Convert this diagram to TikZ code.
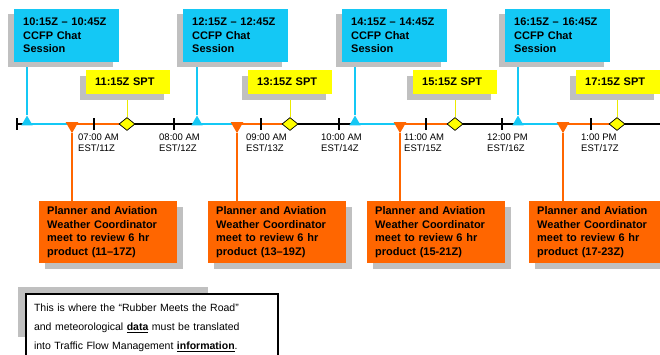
\documentclass[tikz,border=0pt]{standalone}
\usepackage{fontspec}
\setmainfont{Liberation Sans}
\usetikzlibrary{shapes.geometric,shadows}
\definecolor{ccfpblue}{RGB}{20,200,245}
\definecolor{sptyellow}{RGB}{255,255,0}
\definecolor{planorange}{RGB}{255,102,0}
\definecolor{shadowgray}{RGB}{192,192,192}
\pgfdeclarelayer{bg}
\pgfsetlayers{bg,main}
\begin{document}
\begin{tikzpicture}[x=1pt,y=-1pt,
  bluebox/.style={fill=ccfpblue, anchor=north west, minimum width=105pt, minimum height=53pt,
    text width=87pt, inner xsep=9pt, inner ysep=0pt, align=left,
    font=\fontsize{11}{13.5}\selectfont\bfseries,
    drop shadow={shadow xshift=-6pt,shadow yshift=-5pt,fill=shadowgray,opacity=1}},
  yellowbox/.style={fill=sptyellow, anchor=north west, minimum width=84pt, minimum height=24pt,
    text width=66pt, inner xsep=9pt, inner ysep=0pt, align=left,
    font=\fontsize{11}{13.5}\selectfont\bfseries,
    drop shadow={shadow xshift=-6pt,shadow yshift=-6pt,fill=shadowgray,opacity=1}},
  orangebox/.style={fill=planorange, anchor=north west, minimum width=138pt, minimum height=62pt,
    text width=122pt, inner xsep=8pt, inner ysep=0pt, align=left,
    font=\fontsize{11}{13.5}\selectfont\bfseries,
    drop shadow={shadow xshift=6pt,shadow yshift=-6pt,fill=shadowgray,opacity=1}},
  bluetri/.style={regular polygon, regular polygon sides=3, minimum size=13pt, inner sep=0pt,
    fill=ccfpblue, anchor=south},
  orangetri/.style={regular polygon, regular polygon sides=3, shape border rotate=180,
    minimum size=14.5pt, inner sep=0pt, fill=planorange, anchor=north},
  sptdiamond/.style={diamond, minimum width=16pt, minimum height=13pt, inner sep=0pt,
    fill=sptyellow, draw=black, line width=0.7pt},
  ticklabel/.style={anchor=north west, inner sep=0pt, align=left,
    font=\fontsize{9.5}{10.5}\selectfont},
  blueline/.style={draw=ccfpblue, line width=1.8pt},
  orangeline/.style={draw=planorange, line width=2pt},
  yellowline/.style={draw=sptyellow!92!black, line width=1pt},
  tickmark/.style={draw=black, line width=1.1pt},
]
\useasboundingbox (0,0) rectangle (660,354);

% ---- timeline coordinates
\foreach \i/\x in {0/17,1/94,2/174,3/261,4/339,5/426,6/502,7/591}
  \coordinate (t\i) at (\x,124);
\coordinate (tend) at (664,124);

% ---- CCFP chat session boxes
\node[bluebox] (b1) at (14,9)  {10:15Z -- 10:45Z\\CCFP Chat\\Session};
\node[bluebox] (b2) at (183,9) {12:15Z -- 12:45Z\\CCFP Chat\\Session};
\node[bluebox] (b3) at (342,9) {14:15Z -- 14:45Z\\CCFP Chat\\Session};
\node[bluebox] (b4) at (505,9) {16:15Z -- 16:45Z\\CCFP Chat\\Session};

% ---- SPT boxes
\node[yellowbox] (y1) at (86,70)  {11:15Z SPT};
\node[yellowbox] (y2) at (248,70) {13:15Z SPT};
\node[yellowbox] (y3) at (413,70) {15:15Z SPT};
\node[yellowbox] (y4) at (576,70) {17:15Z SPT};

% ---- planner boxes
\node[orangebox] (o1) at (39,201)  {Planner and Aviation\\Weather Coordinator\\meet to review 6 hr\\product (11--17Z)};
\node[orangebox] (o2) at (208,201) {Planner and Aviation\\Weather Coordinator\\meet to review 6 hr\\product (13--19Z)};
\node[orangebox] (o3) at (367,201) {Planner and Aviation\\Weather Coordinator\\meet to review 6 hr\\product (15-21Z)};
\node[orangebox] (o4) at (529,201) {Planner and Aviation\\Weather Coordinator\\meet to review 6 hr\\product (17-23Z)};

% ---- markers on the timeline
\node[bluetri] (bt1) at (27,125.5) {};
\node[bluetri] (bt2) at (197,125.5) {};
\node[bluetri] (bt3) at (355,125.5) {};
\node[bluetri] (bt4) at (518,125.5) {};
\node[orangetri] (ot1) at (72,122) {};
\node[orangetri] (ot2) at (237,122) {};
\node[orangetri] (ot3) at (400,122) {};
\node[orangetri] (ot4) at (563,122) {};
\node[sptdiamond] (d1) at (127,124) {};
\node[sptdiamond] (d2) at (290,124) {};
\node[sptdiamond] (d3) at (455,124) {};
\node[sptdiamond] (d4) at (617,124) {};

% ---- tick labels
\node[ticklabel] (l1) at (78,134)  {07:00 AM\\EST/11Z};
\node[ticklabel] (l2) at (159,134) {08:00 AM\\EST/12Z};
\node[ticklabel] (l3) at (246,134) {09:00 AM\\EST/13Z};
\node[ticklabel] (l4) at (321,134) {10:00 AM\\EST/14Z};
\node[ticklabel] (l5) at (404,134) {11:00 AM\\EST/15Z};
\node[ticklabel] (l6) at (487,134) {12:00 PM\\EST/16Z};
\node[ticklabel] (l7) at (581,134) {1:00 PM\\EST/17Z};

% ---- note box
\fill[shadowgray] (18,287) rectangle (208,337);
\node[draw=black, line width=2pt, fill=white, anchor=north west, minimum width=252pt,
  minimum height=68pt, text width=236pt, inner xsep=7pt, inner ysep=0pt, align=left,
  font=\fontsize{10.5}{19}\selectfont] (note) at (25,293)
  {This is where the “Rubber Meets the Road”\\
   and meteorological \underline{\textbf{data}} must be translated\\
   into Traffic Flow Management \underline{\textbf{information}}.};

% ---- lines (behind markers)
\begin{pgfonlayer}{bg}
  \draw[draw=black, line width=1.8pt] (t0) -- (tend);
  \foreach \k in {1,2,3,4} {
    \draw[blueline] (bt\k |- t0) -- (ot\k |- t0);
    \draw[orangeline] (ot\k |- t0) -- (d\k);
    \draw[blueline] (b\k.south -| bt\k) -- (bt\k.north);
    \draw[orangeline] (ot\k.south) -- (o\k.north -| ot\k);
    \draw[yellowline] (y\k.south -| d\k) -- (d\k.north);
  }
  \foreach \i in {0,...,7}
    \draw[tickmark] (t\i) ++(0,-6) -- ++(0,12);
\end{pgfonlayer}
\end{tikzpicture}
\end{document}
